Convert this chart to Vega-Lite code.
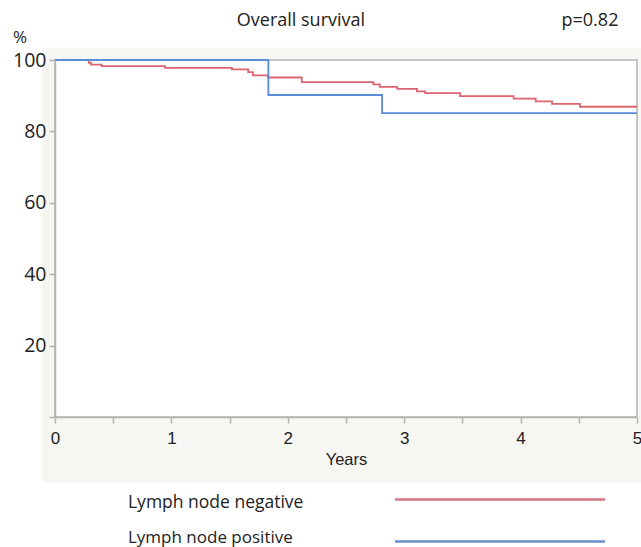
{
  "$schema": "https://vega.github.io/schema/vega-lite/v6.json",
  "width": 582,
  "height": 357,
  "autosize": {"type": "none"},
  "padding": {"left": 55, "top": 60, "right": 4, "bottom": 130},
  "background": "white",
  "config": {
    "view": {"stroke": null, "fill": null},
    "font": "Open Sans"
  },
  "datasets": {
    "km": [
      {"group": "Lymph node negative", "year": 0, "survival": 100},
      {"group": "Lymph node negative", "year": 0.29, "survival": 99.2},
      {"group": "Lymph node negative", "year": 0.31, "survival": 98.7},
      {"group": "Lymph node negative", "year": 0.40, "survival": 98.3},
      {"group": "Lymph node negative", "year": 0.945, "survival": 97.8},
      {"group": "Lymph node negative", "year": 1.52, "survival": 97.4},
      {"group": "Lymph node negative", "year": 1.66, "survival": 96.6},
      {"group": "Lymph node negative", "year": 1.70, "survival": 95.7},
      {"group": "Lymph node negative", "year": 1.83, "survival": 95.1},
      {"group": "Lymph node negative", "year": 2.12, "survival": 93.8},
      {"group": "Lymph node negative", "year": 2.735, "survival": 93.2},
      {"group": "Lymph node negative", "year": 2.79, "survival": 92.5},
      {"group": "Lymph node negative", "year": 2.94, "survival": 91.9},
      {"group": "Lymph node negative", "year": 3.11, "survival": 91.2},
      {"group": "Lymph node negative", "year": 3.18, "survival": 90.7},
      {"group": "Lymph node negative", "year": 3.48, "survival": 89.9},
      {"group": "Lymph node negative", "year": 3.94, "survival": 89.2},
      {"group": "Lymph node negative", "year": 4.13, "survival": 88.4},
      {"group": "Lymph node negative", "year": 4.27, "survival": 87.7},
      {"group": "Lymph node negative", "year": 4.51, "survival": 86.9},
      {"group": "Lymph node negative", "year": 5.0, "survival": 86.9},
      {"group": "Lymph node positive", "year": 0, "survival": 100},
      {"group": "Lymph node positive", "year": 1.833, "survival": 90.2},
      {"group": "Lymph node positive", "year": 2.81, "survival": 85.1},
      {"group": "Lymph node positive", "year": 5.0, "survival": 85.1}
    ]
  },
  "layer": [
    {
      "data": {"values": [{}]},
      "mark": {"type": "rect", "fill": "#f6f6f2", "clip": false},
      "encoding": {
        "x": {"datum": -0.112, "type": "quantitative", "scale": {"domain": [0, 5], "nice": false, "zero": false}},
        "x2": {"datum": 5.2},
        "y": {"datum": -18.3, "type": "quantitative", "scale": {"domain": [0, 100], "nice": false}},
        "y2": {"datum": 103.5}
      }
    },
    {
      "data": {"values": [{}]},
      "mark": {"type": "rect", "fill": "white", "stroke": "#b4b4b4", "strokeWidth": 1.5},
      "encoding": {
        "x": {"datum": 0, "type": "quantitative"},
        "x2": {"datum": 5},
        "y": {"datum": 0, "type": "quantitative"},
        "y2": {"datum": 100}
      }
    },
    {
      "data": {"name": "km"},
      "mark": {"type": "line", "interpolate": "step-after", "strokeWidth": 1.8},
      "encoding": {
        "x": {
          "field": "year", "type": "quantitative",
          "scale": {"domain": [0, 5], "nice": false, "zero": false},
          "axis": {
            "zindex": 1,
            "title": "Years",
            "titleFont": "Liberation Sans", "titleFontSize": 16.5, "titleFontWeight": "normal", "titleColor": "#222", "titlePadding": 5,
            "values": [0, 0.5, 1, 1.5, 2, 2.5, 3, 3.5, 4, 4.5, 5],
            "labelExpr": "datum.value % 1 == 0 ? format(datum.value, 'd') : ''",
            "labelFont": "Liberation Sans", "labelFontSize": 17, "labelColor": "#222", "labelPadding": 7,
            "labelFlush": false, "labelOverlap": false,
            "grid": false, "domainColor": "#b4b4b4", "domainWidth": 1.5, "tickColor": "#b4b4b4", "tickWidth": 1.5, "tickSize": 6
          }
        },
        "y": {
          "field": "survival", "type": "quantitative",
          "scale": {"domain": [0, 100], "nice": false},
          "axis": {
            "zindex": 1,
            "title": null,
            "values": [0, 10, 20, 30, 40, 50, 60, 70, 80, 90, 100],
            "labelExpr": "datum.value % 20 == 0 && datum.value > 0 ? format(datum.value, 'd') : ''",
            "labelFont": "Open Sans", "labelFontSize": 19.5, "labelColor": "#222", "labelPadding": 3,
            "labelOverlap": false,
            "grid": false, "domainColor": "#b4b4b4", "domainWidth": 1.5, "tickColor": "#b4b4b4", "tickWidth": 1.5, "tickSize": 6
          }
        },
        "color": {
          "field": "group", "type": "nominal",
          "scale": {"domain": ["Lymph node negative", "Lymph node positive"], "range": ["#dc6470", "#5b8ad6"]},
          "legend": null
        }
      }
    },
    {
      "data": {"values": [{"t": "Overall survival"}]},
      "mark": {"type": "text", "fontSize": 18, "font": "Open Sans", "color": "#222", "baseline": "middle", "align": "center", "clip": false},
      "encoding": {"text": {"field": "t"}, "x": {"datum": 2.113, "type": "quantitative"}, "y": {"datum": 110.8, "type": "quantitative"}}
    },
    {
      "data": {"values": [{"t": "p=0.82"}]},
      "mark": {"type": "text", "fontSize": 18, "font": "Open Sans", "color": "#222", "baseline": "middle", "align": "center", "clip": false},
      "encoding": {"text": {"field": "t"}, "x": {"datum": 4.596, "type": "quantitative"}, "y": {"datum": 110.8, "type": "quantitative"}}
    },
    {
      "data": {"values": [{"t": "%"}]},
      "mark": {"type": "text", "fontSize": 17, "font": "Open Sans", "color": "#222", "baseline": "middle", "align": "center", "clip": false},
      "encoding": {"text": {"field": "t"}, "x": {"datum": -0.30, "type": "quantitative"}, "y": {"datum": 106.3, "type": "quantitative"}}
    },
    {
      "data": {"values": [{"group": "Lymph node negative"}]},
      "mark": {"type": "text", "fontSize": 17.5, "font": "Open Sans", "color": "#222", "baseline": "middle", "align": "left", "clip": false},
      "encoding": {"text": {"field": "group"}, "x": {"datum": 0.627, "type": "quantitative"}, "y": {"datum": -24.0, "type": "quantitative"}}
    },
    {
      "data": {"values": [{"group": "Lymph node positive"}]},
      "mark": {"type": "text", "fontSize": 17, "font": "Open Sans", "color": "#222", "baseline": "middle", "align": "left", "clip": false},
      "encoding": {"text": {"field": "group"}, "x": {"datum": 0.627, "type": "quantitative"}, "y": {"datum": -33.9, "type": "quantitative"}}
    },
    {
      "data": {"values": [{"group": "Lymph node negative"}]},
      "mark": {"type": "rule", "strokeWidth": 2.5, "color": "#d77580", "clip": false},
      "encoding": {"x": {"datum": 2.921, "type": "quantitative"}, "x2": {"datum": 4.725}, "y": {"datum": -23.1, "type": "quantitative"}}
    },
    {
      "data": {"values": [{"group": "Lymph node positive"}]},
      "mark": {"type": "rule", "strokeWidth": 2.5, "color": "#6c91cf", "clip": false},
      "encoding": {"x": {"datum": 2.921, "type": "quantitative"}, "x2": {"datum": 4.725}, "y": {"datum": -34.9, "type": "quantitative"}}
    }
  ]
}
